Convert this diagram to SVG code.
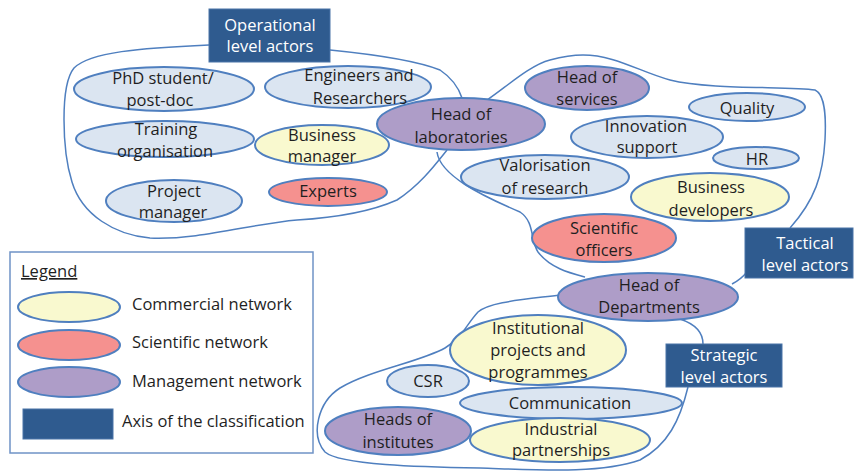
<svg xmlns="http://www.w3.org/2000/svg" width="856" height="475" viewBox="0 0 856 475">
<style>
text{font-family:"Open Sans","Liberation Sans",sans-serif;font-size:16.5px;fill:#1f1f1f;text-anchor:middle}
.box{fill:#2f5b8f;stroke:#4a74a8;stroke-width:1}
.bt{fill:#ffffff}
.e{stroke:#4f7fbf;stroke-width:2}
.blue{fill:#dbe5f1}
.yel{fill:#f9f9cf}
.red{fill:#f5918f}
.pur{fill:#ae9dc8}
.blob{fill:none;stroke:#4f7fbf;stroke-width:1.5}
.lt{text-anchor:start}
</style>
<rect width="856" height="475" fill="#ffffff"/>
<g id="connectors">
<path class="blob" d="M209,45 C140,48 90,52 74,68 C60,85 62,150 72,182 C82,215 115,235 150,238 C200,240 250,224 297,220 C330,218 370,212 397,200 C420,185 435,165 447,150"/>
<path class="blob" d="M330,50 C370,54 415,60 440,70 C452,78 458,86 462,98"/>
<path class="blob" d="M487,100 C505,88 530,65 550,60 C565,56 575,55 583,55 C615,55 640,72 670,80 C710,90 790,86 815,90 C826,95 826,120 825,140 C823,175 815,200 790,228"/>
<path class="blob" d="M437,152 C440,175 480,195 520,212 C535,222 530,240 538,252 C550,268 570,273 585,277"/>
<path class="blob" d="M747,272 C742,278 738,281 732,284"/>
<path class="blob" d="M560,295 C520,300 490,302 478,312 C466,325 462,338 445,348 C420,362 370,370 340,388 C318,402 310,435 325,452 C340,465 420,467 480,468 C540,470 600,474 640,460 C668,445 680,420 688,387"/>
<path class="blob" d="M680,319 C695,324 703,332 703,344"/>
</g>
<g id="phd"><ellipse class="e blue" cx="164" cy="89" rx="90" ry="22"/><text x="163" y="84">PhD student/</text><text x="160" y="106">post-doc</text></g>
<g id="engineers"><ellipse class="e blue" cx="348" cy="87" rx="83" ry="21"/><text x="359" y="81">Engineers and</text><text x="360" y="104">Researchers</text></g>
<g id="training"><ellipse class="e blue" cx="165" cy="139" rx="89" ry="18"/><text x="166" y="135">Training</text><text x="165" y="157">organisation</text></g>
<g id="business-manager"><ellipse class="e yel" cx="322" cy="145" rx="67" ry="20"/><text x="322" y="141">Business</text><text x="322" y="162">manager</text></g>
<g id="project-manager"><ellipse class="e blue" cx="174" cy="201" rx="68" ry="21"/><text x="174" y="197">Project</text><text x="173" y="218">manager</text></g>
<g id="experts"><ellipse class="e red" cx="328" cy="192" rx="59" ry="14"/><text x="328" y="197">Experts</text></g>
<g id="head-labs"><ellipse class="e pur" cx="461" cy="124" rx="84" ry="26"/><text x="461" y="120">Head of</text><text x="461" y="143">laboratories</text></g>
<g id="head-services"><ellipse class="e pur" cx="587" cy="88" rx="62" ry="22"/><text x="587" y="83">Head of</text><text x="587" y="105">services</text></g>
<g id="quality"><ellipse class="e blue" cx="747" cy="107" rx="58" ry="14"/><text x="747" y="114">Quality</text></g>
<g id="innovation"><ellipse class="e blue" cx="647" cy="137" rx="76" ry="21"/><text x="646" y="132">Innovation</text><text x="647" y="153">support</text></g>
<g id="hr"><ellipse class="e blue" cx="756" cy="158" rx="43" ry="11"/><text x="757" y="165">HR</text></g>
<g id="valorisation"><ellipse class="e blue" cx="545" cy="177" rx="84" ry="22"/><text x="545" y="171">Valorisation</text><text x="545" y="194">of research</text></g>
<g id="business-developers"><ellipse class="e yel" cx="710" cy="197" rx="79" ry="24"/><text x="711" y="193">Business</text><text x="711" y="216">developers</text></g>
<g id="scientific-officers"><ellipse class="e red" cx="604" cy="238" rx="72" ry="24"/><text x="604" y="234">Scientific</text><text x="604" y="256">officers</text></g>
<g id="head-departments"><ellipse class="e pur" cx="648" cy="297" rx="90" ry="24"/><text x="649" y="291">Head of</text><text x="649" y="313">Departments</text></g>
<g id="institutional"><ellipse class="e yel" cx="538" cy="350" rx="88" ry="35"/><text x="538" y="334">Institutional</text><text x="538" y="356">projects and</text><text x="538" y="378">programmes</text></g>
<g id="csr"><ellipse class="e blue" cx="428" cy="381" rx="41" ry="16"/><text x="428" y="387">CSR</text></g>
<g id="communication"><ellipse class="e blue" cx="571" cy="403" rx="111" ry="16"/><text x="570" y="409">Communication</text></g>
<g id="heads-institutes"><ellipse class="e pur" cx="398" cy="431" rx="73" ry="24"/><text x="398" y="425">Heads of</text><text x="398" y="448">institutes</text></g>
<g id="industrial"><ellipse class="e yel" cx="560" cy="440" rx="90" ry="22"/><text x="561" y="435">Industrial</text><text x="561" y="456">partnerships</text></g>
<g id="operational-box"><rect class="box" x="209" y="9" width="121" height="53"/><text class="bt" x="270" y="31">Operational</text><text class="bt" x="270" y="52">level actors</text></g>
<g id="tactical-box"><rect class="box" x="745" y="228" width="108" height="50"/><text class="bt" x="805" y="249">Tactical</text><text class="bt" x="805" y="271">level actors</text></g>
<g id="strategic-box"><rect class="box" x="666" y="344" width="116" height="43"/><text class="bt" x="724" y="361">Strategic</text><text class="bt" x="724" y="383">level actors</text></g>
<g id="legend">
<rect x="10" y="252" width="303" height="201" fill="#ffffff" stroke="#6f93c6" stroke-width="1.5"/>
<text class="lt" x="21" y="277" text-decoration="underline">Legend</text>
<ellipse class="e yel" cx="69" cy="307" rx="51" ry="15"/>
<text class="lt" x="132" y="310">Commercial network</text>
<ellipse class="e red" cx="69" cy="345" rx="51" ry="15"/>
<text class="lt" x="132" y="348">Scientific network</text>
<ellipse class="e pur" cx="69" cy="382" rx="51" ry="15"/>
<text class="lt" x="132" y="387">Management network</text>
<rect class="box" x="23" y="409" width="90" height="30"/>
<text class="lt" x="122" y="427">Axis of the classification</text>
</g>
</svg>
